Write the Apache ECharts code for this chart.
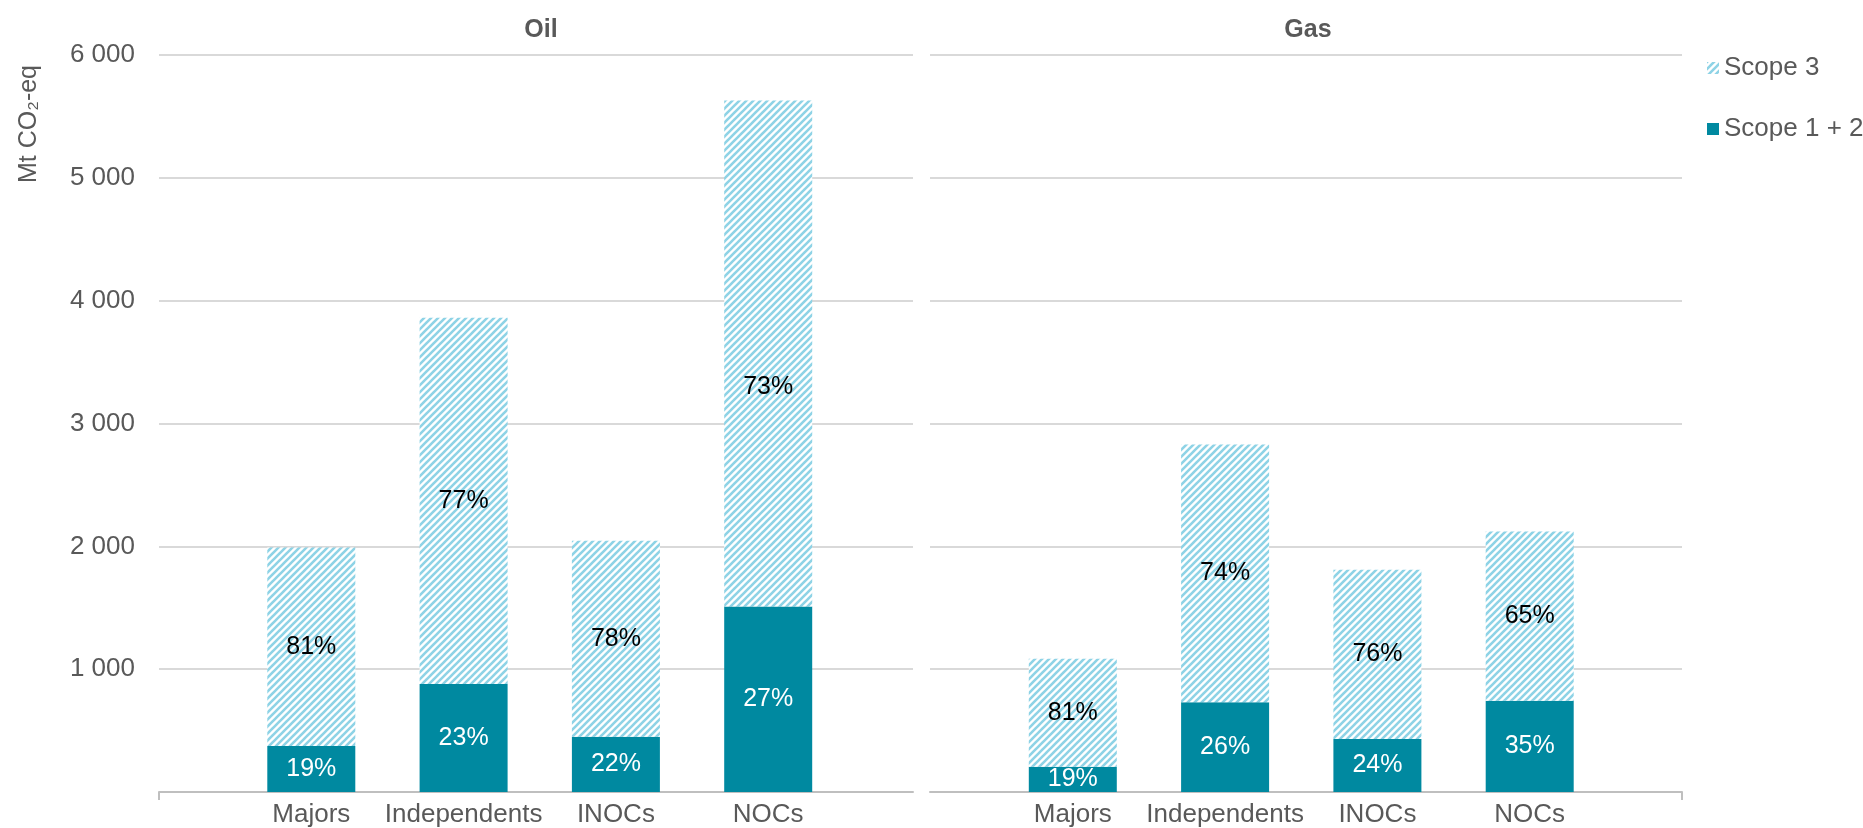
<!DOCTYPE html>
<html><head><meta charset="utf-8">
<script src="https://cdn.jsdelivr.net/npm/echarts@6/dist/echarts.min.js"></script>
<style>html,body{margin:0;padding:0;background:#fff}#c{width:1863px;height:828px}</style>
</head><body><div id="c"></div>
<script>
// ---- data ----
const categories = ['Majors', 'Independents', 'INOCs', 'NOCs'];
const panelTitles = ['Oil', 'Gas'];
const oilScope12 = [375, 880, 450, 1510];
const oilScope3  = [1615, 2980, 1595, 4120];
const gasScope12 = [206, 730, 431, 743];
const gasScope3  = [879, 2100, 1379, 1377];
const yTickValues = [0, 1000, 2000, 3000, 4000, 5000, 6000];
const yAxisName = 'Mt CO₂-eq';
const seriesNames = ['Scope 3', 'Scope 1 + 2'];

// ---- style ----
const FONT = 'Liberation Sans, Arial, sans-serif';
const GREY = '#595959';
const DARK = '#0089A0';

function hatch() {
  const s = 7, c = document.createElement('canvas');
  c.width = s; c.height = s;
  const g = c.getContext('2d');
  g.fillStyle = '#ffffff'; g.fillRect(0, 0, s, s);
  g.strokeStyle = '#8ED3E6'; g.lineWidth = 2.6;
  [[0, s, s, 0], [-2, 2, 2, -2], [s - 2, s + 2, s + 2, s - 2]].forEach(l => {
    g.beginPath(); g.moveTo(l[0], l[1]); g.lineTo(l[2], l[3]); g.stroke();
  });
  return c;
}
const hatchFill = { image: hatch(), repeat: 'repeat' };

// full category row: blank slot, oil groups, blank slot, gas groups, blank slot
const axisCats = [''].concat(categories, [''], categories, ['']);
const scope12All = ['-'].concat(oilScope12, ['-'], gasScope12, ['-']);
const scope3All  = ['-'].concat(oilScope3, ['-'], gasScope3, ['-']);

function pctOf(a, b) {
  return p => {
    const x = a[p.dataIndex], y = b[p.dataIndex];
    return Math.round(100 * x / (x + y)) + '%';
  };
}
function fmtThousands(v) { return v === 0 ? '' : String(v).replace(/\B(?=(\d{3})+(?!\d))/g, ' '); }

const yMin = yTickValues[0], yMax = yTickValues[yTickValues.length - 1];
const yInterval = yTickValues[1] - yTickValues[0];

const chart = echarts.init(document.getElementById('c'), null, { renderer: 'canvas' });

function frameX(idx, tickAt) {
  return {
    type: 'value', gridIndex: idx, min: 0, max: 1,
    splitLine: { show: false },
    axisLine: { show: true, onZero: false, lineStyle: { color: '#BFBFBF', width: 2 } },
    axisTick: { show: true, customValues: [tickAt], length: 8, lineStyle: { color: '#BFBFBF', width: 2 } },
    axisLabel: { show: false }
  };
}
function yAxis(idx, showLabels, showSplit) {
  return {
    type: 'value', gridIndex: idx, min: yMin, max: yMax, interval: yInterval,
    axisLine: { show: false }, axisTick: { show: false },
    splitLine: { show: showSplit, lineStyle: { color: '#D9D9D9', width: 2 } },
    axisLabel: { show: showLabels, formatter: fmtThousands, fontSize: 26, color: GREY, fontFamily: FONT, margin: 24 }
  };
}

const barBase = { type: 'bar', xAxisIndex: 2, yAxisIndex: 2, stack: 'total', barWidth: 88 };

chart.setOption({
  animation: false,
  backgroundColor: '#ffffff',
  title: [
    { text: panelTitles[0], left: 536, top: 13, textAlign: 'center', textStyle: { fontSize: 25, fontWeight: 'bold', color: GREY, fontFamily: FONT } },
    { text: panelTitles[1], left: 1303, top: 13, textAlign: 'center', textStyle: { fontSize: 25, fontWeight: 'bold', color: GREY, fontFamily: FONT } }
  ],
  legend: {
    data: seriesNames, orient: 'vertical', left: 1702, top: 50,
    itemWidth: 12, itemHeight: 12, itemGap: 35, icon: 'rect',
    textStyle: { fontSize: 26, color: GREY, fontFamily: FONT }
  },
  grid: [
    { left: 159, top: 55, width: 754, height: 737 },
    { left: 930, top: 55, width: 752, height: 737 },
    { left: 159, top: 55, width: 1523, height: 737 }
  ],
  xAxis: [
    frameX(0, 0),
    frameX(1, 1),
    {
      type: 'category', gridIndex: 2, data: axisCats, boundaryGap: false,
      axisLine: { show: false }, axisTick: { show: false }, splitLine: { show: false },
      axisLabel: { interval: 0, fontSize: 26, color: GREY, fontFamily: FONT, margin: 10 }
    }
  ],
  yAxis: [yAxis(0, true, true), yAxis(1, false, true), yAxis(2, false, false)],
  graphic: [{
    type: 'text', x: 29, y: 124, rotation: Math.PI / 2,
    style: { text: yAxisName, fill: GREY, font: '25px ' + FONT, textAlign: 'center', textVerticalAlign: 'middle' }
  }],
  series: [
    Object.assign({}, barBase, {
      name: seriesNames[1],
      data: scope12All,
      itemStyle: { color: DARK },
      label: { show: true, position: 'inside', formatter: pctOf(scope12All, scope3All),
               fontSize: 25, fontFamily: FONT, color: '#ffffff' }
    }),
    Object.assign({}, barBase, {
      name: seriesNames[0],
      data: scope3All.map((v, i) => i === 4 ? { value: v, label: { offset: [0, 34] } } : v),
      itemStyle: { color: hatchFill },
      label: { show: true, position: 'inside', formatter: pctOf(scope3All, scope12All),
               fontSize: 25, fontFamily: FONT, color: '#000000' }
    })
  ]
});
</script></body></html>
